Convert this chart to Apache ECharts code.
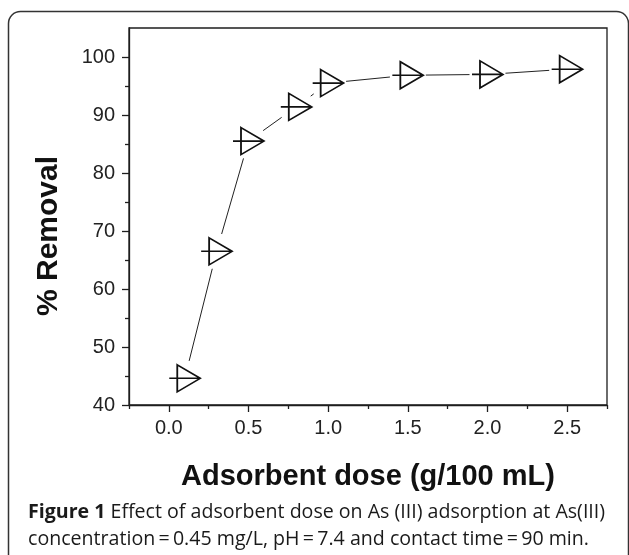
<!DOCTYPE html>
<html>
<head>
<meta charset="utf-8">
<script src="https://cdn.jsdelivr.net/npm/echarts@6/dist/echarts.min.js"></script>
<style>
html,body{margin:0;padding:0;background:#fff;}
#chart{width:629px;height:555px;}
</style>
</head>
<body>
<div id="chart"></div>
<script>
// ---- data ----
var doses = [0.1, 0.3, 0.5, 0.8, 1.0, 1.5, 2.0, 2.5];
var removal = [44.6, 66.5, 85.5, 91.4, 95.5, 96.85, 97.0, 97.9];
var xMajorTicks = [0, 0.5, 1.0, 1.5, 2.0, 2.5];
var xMinorTicks = [-0.25, 0.25, 0.75, 1.25, 1.75, 2.25, 2.75];
var yMajorTicks = [40, 50, 60, 70, 80, 90, 100];
var yMinorTicks = [45, 55, 65, 75, 85, 95];
var xTitle = 'Adsorbent dose (g/100 mL)';
var yTitle = '% Removal';
var captionBold = 'Figure 1';
var captionLine1 = ' Effect of adsorbent dose on As (III) adsorption at As(III)';
var captionLine2 = 'concentration\u2009=\u20090.45 mg/L, pH\u2009=\u20097.4 and contact time\u2009=\u200990 min.';

var points = doses.map(function (d, i) { return [d, removal[i]]; });
var segments = [];
for (var i = 1; i < doses.length; i++) {
  segments.push([doses[i - 1], removal[i - 1], doses[i], removal[i]]);
}

var ink = '#1e1e1e';
var tickFont = { color: '#222', fontSize: 20, fontFamily: 'Liberation Sans' };
var capFont = 'Open Sans';
var capSize = 19.6;

var chart = echarts.init(document.getElementById('chart'), null, { renderer: 'canvas' });
chart.setOption({
  animation: false,
  backgroundColor: '#fff',
  grid: { left: 129, right: 22, top: 28, bottom: 150, show: true, borderColor: ink, borderWidth: 1.3, backgroundColor: 'transparent' },
  xAxis: [{
    type: 'value', min: -0.25, max: 2.75,
    axisLine: { show: true, onZero: false, lineStyle: { color: ink, width: 1.3 } },
    axisTick: { show: true, length: 7, inside: false, customValues: xMajorTicks, lineStyle: { color: ink, width: 1.3 } },
    axisLabel: { customValues: xMajorTicks, margin: 13, formatter: function (v) { return v.toFixed(1); }, color: tickFont.color, fontSize: tickFont.fontSize, fontFamily: tickFont.fontFamily },
    splitLine: { show: false },
    name: xTitle, nameLocation: 'middle', nameGap: 57,
    nameTextStyle: { fontSize: 29, fontWeight: 'bold', fontFamily: 'Liberation Sans', color: '#111' }
  }, {
    type: 'value', min: -0.25, max: 2.75, position: 'bottom',
    axisLine: { show: false, onZero: false },
    axisTick: { show: true, length: 4, customValues: xMinorTicks, lineStyle: { color: ink, width: 1.3 } },
    axisLabel: { show: false },
    splitLine: { show: false }
  }],
  yAxis: [{
    type: 'value', min: 40, max: 105,
    axisLine: { show: true, onZero: false, lineStyle: { color: ink, width: 1.3 } },
    axisTick: { show: true, length: 7, customValues: yMajorTicks, lineStyle: { color: ink, width: 1.3 } },
    axisLabel: { customValues: yMajorTicks, margin: 14, color: tickFont.color, fontSize: tickFont.fontSize, fontFamily: tickFont.fontFamily },
    splitLine: { show: false }
  }, {
    type: 'value', min: 40, max: 105, position: 'left',
    axisLine: { show: false, onZero: false },
    axisTick: { show: true, length: 4, customValues: yMinorTicks, lineStyle: { color: ink, width: 1.3 } },
    axisLabel: { show: false },
    splitLine: { show: false }
  }],
  series: [{
    type: 'custom',
    xAxisIndex: 0, yAxisIndex: 0,
    data: segments,
    encode: { x: [0, 2], y: [1, 3] },
    renderItem: function (params, api) {
      var p0 = api.coord([api.value(0), api.value(1)]);
      var p1 = api.coord([api.value(2), api.value(3)]);
      var dx = p1[0] - p0[0], dy = p1[1] - p0[1];
      var len = Math.sqrt(dx * dx + dy * dy);
      var gap = 18;
      if (len <= 2 * gap) return null;
      var ux = dx / len, uy = dy / len;
      return {
        type: 'line',
        shape: { x1: p0[0] + ux * gap, y1: p0[1] + uy * gap, x2: p1[0] - ux * gap, y2: p1[1] - uy * gap },
        style: { stroke: '#222', lineWidth: 1 }
      };
    },
    z: 2
  }, {
    type: 'scatter',
    xAxisIndex: 0, yAxisIndex: 0,
    data: points,
    symbol: 'path://M0,13.35L31,13.35M8,0L31,13.35L8,26.7Z',
    symbolSize: [31, 27],
    itemStyle: { color: 'rgba(0,0,0,0)', borderColor: '#111', borderWidth: 1.7, opacity: 1 },
    emphasis: { disabled: true },
    z: 3
  }],
  graphic: [{
    type: 'rect',
    shape: { x: 8.5, y: 11.5, width: 620, height: 620, r: 12 },
    style: { fill: 'none', stroke: '#333', lineWidth: 1.5 },
    silent: true
  }, {
    type: 'text',
    x: 49, y: 236, rotation: Math.PI / 2,
    style: {
      text: yTitle, fontSize: 30, fontWeight: 'bold', fontFamily: 'Liberation Sans', fill: '#111',
      align: 'center', verticalAlign: 'middle'
    }
  }, {
    type: 'text',
    x: 28, y: 512,
    style: {
      text: '{b|' + captionBold + '}' + captionLine1,
      fontSize: capSize, fontFamily: capFont, fill: '#1a1a1a', verticalAlign: 'middle',
      rich: { b: { fontWeight: 'bold', fontSize: capSize, fontFamily: capFont, fill: '#1a1a1a' } }
    }
  }, {
    type: 'text',
    x: 28, y: 539,
    style: { text: captionLine2, fontSize: capSize, fontFamily: capFont, fill: '#1a1a1a', verticalAlign: 'middle' }
  }]
});
</script>
</body>
</html>
